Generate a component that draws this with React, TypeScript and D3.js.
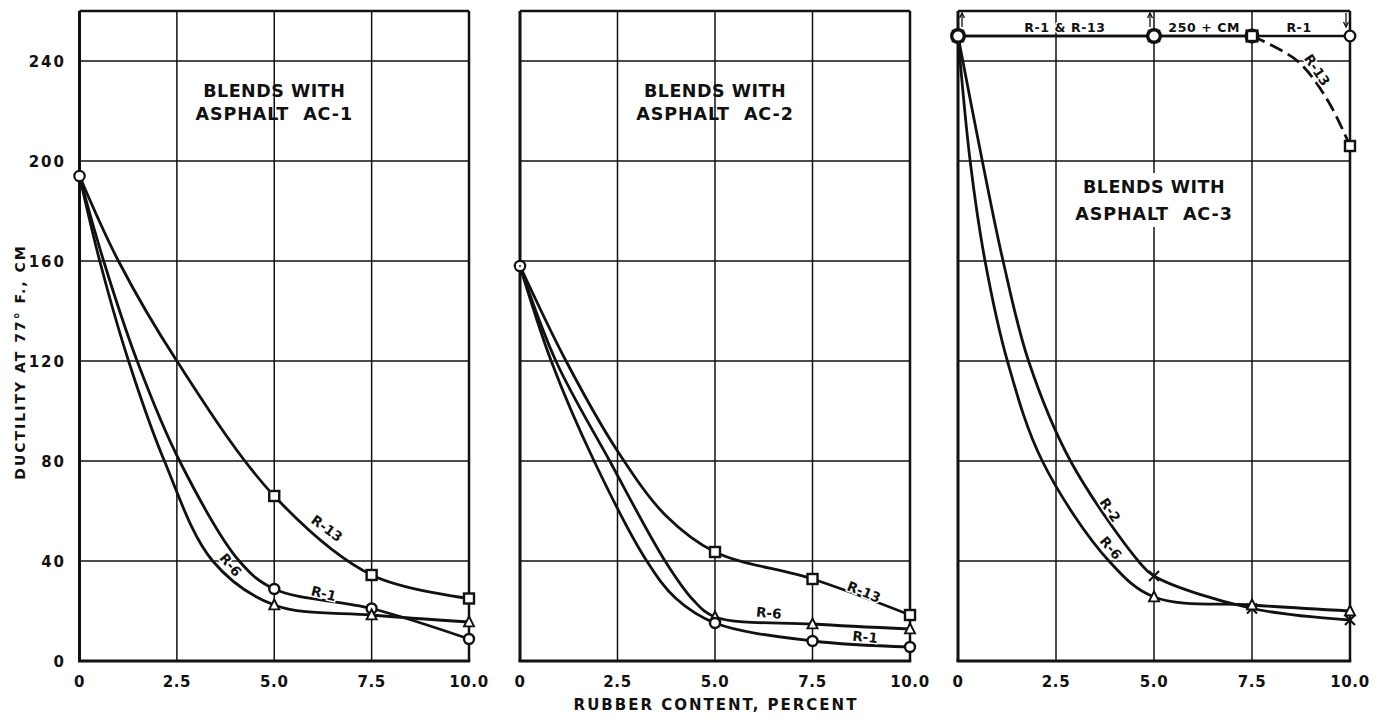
import React from 'react';
import * as d3 from 'd3';

// ---------- tick labels ----------
const xTicks = [0, 2.5, 5, 7.5, 10];
const xTickLabels = ['0', '2.5', '5.0', '7.5', '10.0'];
const yTicks = [0, 40, 80, 120, 160, 200, 240];
const yTickLabels = ['0', '40', '80', '120', '160', '200', '240'];
const gridY = [40, 80, 120, 160, 200, 240];
const markerX = [5, 7.5, 10];

// ---------- AC-1 curves (rubber %, ductility cm) ----------
const ac1R13: [number, number][] = [[0, 194], [1.0, 160], [2.5, 120], [5, 66], [7.5, 34.4], [10, 25]];
const ac1R1: [number, number][] = [[0, 194], [0.62, 160], [1.48, 120], [2.57, 80], [4.1, 40], [5, 28.8], [7.5, 21], [10, 8.8]];
const ac1R6: [number, number][] = [[0, 194], [0.52, 160], [1.26, 120], [2.18, 80], [3.42, 40], [5, 22.4], [7.5, 18.4], [10, 15.6]];

// ---------- AC-2 curves ----------
const ac2R13: [number, number][] = [[0, 158], [1.18, 120], [2.5, 84], [3.75, 58], [5, 43.6], [7.5, 32.8], [10, 18.4]];
const ac2R6: [number, number][] = [[0, 158], [0.92, 120], [2.3, 80], [3.72, 40], [4.44, 24.4], [5, 17.6], [7.5, 14.8], [10, 12.8]];
const ac2R1: [number, number][] = [[0, 158], [0.8, 120], [1.9, 80], [3.25, 40], [4.0, 25], [5, 15.2], [7.5, 8], [10, 5.6]];

// ---------- AC-3 curves ----------
const ac3R1: [number, number][] = [[0, 250], [5, 250], [7.5, 250], [10, 250]];
const ac3R13: [number, number][] = [[0, 250], [5, 250], [7.5, 250]];
const ac3R13Dashed: [number, number][] = [[7.5, 250], [8.66, 240], [9.44, 224], [10, 206]];
const ac3R2: [number, number][] = [[0, 250], [0.62, 200], [1.15, 160], [1.8, 120], [2.87, 80], [4.6, 40], [5, 34], [7.5, 21], [10, 16.4]];
const ac3R6: [number, number][] = [[0, 250], [0.31, 200], [0.69, 160], [1.26, 120], [2.15, 80], [3.85, 40], [5, 25.6], [7.5, 22.4], [10, 20]];

const FONT = "'DejaVu Sans', 'Liberation Sans', sans-serif";
const INK = '#111';

const yScale = d3.scaleLinear().domain([0, 240]).range([661, 61]);
const TOP = yScale(260);
const BOTTOM = yScale(0);

type Curve = { pts: [number, number][]; marker: string };
type Label = { text: string; x: number; y: number; rot: number };

const panels = [
  {
    range: [79.5, 469],
    title: ['BLENDS WITH', 'ASPHALT  AC-1'],
    titlePos: { x: 5, y1: 97, y2: 120 },
    start: 194,
    curves: [
      { pts: ac1R13, marker: 'square' },
      { pts: ac1R1, marker: 'circle' },
      { pts: ac1R6, marker: 'triangle' },
    ] as Curve[],
    labels: [
      { text: 'R-13', x: 6.35, y: 53, rot: 36 },
      { text: 'R-6', x: 3.88, y: 38.4, rot: 50 },
      { text: 'R-1', x: 6.27, y: 27, rot: 14 },
    ] as Label[],
    yAxis: true,
  },
  {
    range: [520, 910],
    title: ['BLENDS WITH', 'ASPHALT  AC-2'],
    titlePos: { x: 5, y1: 97, y2: 120 },
    start: 158,
    curves: [
      { pts: ac2R13, marker: 'square' },
      { pts: ac2R6, marker: 'triangle' },
      { pts: ac2R1, marker: 'circle' },
    ] as Curve[],
    labels: [
      { text: 'R-13', x: 8.82, y: 27.6, rot: 22 },
      { text: 'R-6', x: 6.38, y: 19.2, rot: 5 },
      { text: 'R-1', x: 8.85, y: 9.6, rot: 6 },
    ] as Label[],
    yAxis: false,
  },
  {
    range: [958, 1350],
    title: ['BLENDS WITH', 'ASPHALT  AC-3'],
    titlePos: { x: 5, y1: 193, y2: 220 },
    start: null,
    curves: [
      { pts: ac3R2, marker: 'cross' },
      { pts: ac3R6, marker: 'triangle' },
    ] as Curve[],
    labels: [
      { text: 'R-2', x: 3.88, y: 60.4, rot: 56 },
      { text: 'R-6', x: 3.9, y: 45.2, rot: 50 },
      { text: 'R-13', x: 9.16, y: 236.4, rot: 56 },
    ] as Label[],
    yAxis: false,
  },
];

function Marker({ kind, cx, cy, r = 5, sw = 2.4 }: { kind: string; cx: number; cy: number; r?: number; sw?: number }) {
  if (kind === 'circle')
    return <circle cx={cx} cy={cy} r={r} fill="#fff" stroke={INK} strokeWidth={sw} />;
  if (kind === 'square')
    return <rect x={cx - r} y={cy - r} width={2 * r} height={2 * r} fill="#fff" stroke={INK} strokeWidth={sw} />;
  if (kind === 'triangle') {
    const h = r * 1.1;
    return (
      <polygon
        points={`${cx},${cy - h} ${cx - r},${cy + h * 0.8} ${cx + r},${cy + h * 0.8}`}
        fill="#fff"
        stroke={INK}
        strokeWidth={sw * 0.8}
      />
    );
  }
  if (kind === 'cross')
    return (
      <g stroke={INK} strokeWidth={2.2}>
        <line x1={cx - r} y1={cy - r} x2={cx + r} y2={cy + r} />
        <line x1={cx - r} y1={cy + r} x2={cx + r} y2={cy - r} />
      </g>
    );
  return null;
}

export default function App() {
  return (
    <svg
      width={1381}
      height={719}
      viewBox="0 0 1381 719"
      style={{ display: 'block', background: '#fff', position: 'absolute', left: 0, top: 0 }}
    >
      <rect width={1381} height={719} fill="#fff" />
      {panels.map((p, pi) => {
        const xs = d3.scaleLinear().domain([0, 10]).range(p.range);
        const line = d3
          .line<[number, number]>()
          .x((d) => xs(d[0]))
          .y((d) => yScale(d[1]))
          .curve(d3.curveCatmullRom.alpha(0.5));
        return (
          <g key={pi}>
            {/* grid */}
            {gridY.map((g) => (
              <line key={'gy' + g} x1={xs(0)} x2={xs(10)} y1={yScale(g)} y2={yScale(g)} stroke={INK} strokeWidth={1.5} />
            ))}
            {xTicks.slice(1, 4).map((t) => (
              <line key={'gx' + t} x1={xs(t)} x2={xs(t)} y1={TOP} y2={BOTTOM} stroke={INK} strokeWidth={1.5} />
            ))}
            {/* title */}
            {pi === 2 && (
              <rect x={xs(5) - 75} y={p.titlePos.y1 - 20} width={150} height={p.titlePos.y2 - p.titlePos.y1 + 27} fill="#fff" />
            )}
            <g fontFamily={FONT} fontWeight="bold" fontSize={17.5} fill={INK} textAnchor="middle">
              <text x={xs(p.titlePos.x)} y={p.titlePos.y1} style={{ whiteSpace: 'pre' }} letterSpacing={0.5}>
                {p.title[0]}
              </text>
              <text x={xs(p.titlePos.x)} y={p.titlePos.y2} style={{ whiteSpace: 'pre' }} letterSpacing={0.9}>
                {p.title[1]}
              </text>
            </g>
            {/* frame */}
            <line x1={xs(0)} x2={xs(10)} y1={TOP} y2={TOP} stroke={INK} strokeWidth={2.5} />
            <line x1={xs(10)} x2={xs(10)} y1={TOP} y2={BOTTOM} stroke={INK} strokeWidth={2.5} />
            <line x1={xs(0)} x2={xs(0)} y1={TOP} y2={BOTTOM} stroke={INK} strokeWidth={3} />
            <line x1={xs(0) - 1.5} x2={xs(10) + 1.25} y1={BOTTOM} y2={BOTTOM} stroke={INK} strokeWidth={3} />

            {/* panel 3 special top band */}
            {pi === 2 && (
              <g>
                <path d={line(ac3R1) || ''} fill="none" stroke={INK} strokeWidth={2.6} />
                <path d={line(ac3R13) || ''} fill="none" stroke={INK} strokeWidth={2.6} />
                <path
                  d={line(ac3R13Dashed) || ''}
                  fill="none"
                  stroke={INK}
                  strokeWidth={2.8}
                  strokeDasharray="14,6"
                />
                {[0, 5, 10].map((t, i) => {
                  const up = i < 2;
                  const x = xs(t) + (i === 0 ? 4 : -4);
                  const y1 = TOP + 2;
                  const y2 = yScale(250) - 9;
                  return (
                    <g key={'ar' + t} stroke={INK} strokeWidth={1.3} fill="none">
                      <line x1={x} x2={x} y1={y1} y2={y2} />
                      {up ? (
                        <path d={`M${x - 2.5},${y1 + 5} L${x},${y1} L${x + 2.5},${y1 + 5}`} />
                      ) : (
                        <path d={`M${x - 2.5},${y2 - 5} L${x},${y2} L${x + 2.5},${y2 - 5}`} />
                      )}
                    </g>
                  );
                })}
                <g fontFamily={FONT} fontWeight="bold" fontSize={12.5} fill={INK} textAnchor="middle">
                  {[
                    { t: 'R-1 & R-13', x: 2.73 },
                    { t: '250 + CM', x: 6.28 },
                    { t: 'R-1', x: 8.7 },
                  ].map((b) => (
                    <text
                      key={b.t}
                      x={xs(b.x)}
                      y={yScale(250) - 4}
                      stroke="#fff"
                      strokeWidth={3}
                      paintOrder="stroke"
                      letterSpacing={0.6}
                    >
                      {b.t}
                    </text>
                  ))}
                </g>
              </g>
            )}

            {/* curves */}
            {p.curves.map((c, ci) => (
              <path key={'c' + ci} d={line(c.pts) || ''} fill="none" stroke={INK} strokeWidth={2.8} />
            ))}

            {/* series labels */}
            <g fontFamily={FONT} fontWeight="bold" fontSize={13.5} fill={INK} textAnchor="middle">
              {p.labels.map((l) => (
                <text
                  key={l.text + l.x}
                  transform={`translate(${xs(l.x)},${yScale(l.y)}) rotate(${l.rot})`}
                  dy="0.35em"
                  stroke="#fff"
                  strokeWidth={3}
                  paintOrder="stroke"
                >
                  {l.text}
                </text>
              ))}
            </g>

            {/* markers */}
            {p.curves.map((c, ci) =>
              c.pts
                .filter((d) => markerX.includes(d[0]))
                .map((d) => (
                  <Marker key={'m' + ci + d[0]} kind={c.marker} cx={xs(d[0])} cy={yScale(d[1])} />
                ))
            )}
            {p.start !== null && (
              <g>
                <Marker kind="circle" cx={xs(0)} cy={yScale(p.start)} r={5.2} sw={2.2} />
                {pi === 1 && <circle cx={xs(0)} cy={yScale(p.start)} r={1} fill={INK} />}
              </g>
            )}
            {pi === 2 && (
              <g>
                <Marker kind="square" cx={xs(0)} cy={yScale(250)} r={5} sw={2.6} />
                <Marker kind="circle" cx={xs(0)} cy={yScale(250)} r={6.3} sw={3.4} />
                <Marker kind="square" cx={xs(5)} cy={yScale(250)} r={5} sw={2.6} />
                <Marker kind="circle" cx={xs(5)} cy={yScale(250)} r={6.3} sw={3.4} />
                <Marker kind="circle" cx={xs(7.5)} cy={yScale(250)} r={6} sw={3} />
                <Marker kind="square" cx={xs(7.5)} cy={yScale(250)} r={5.2} sw={2.8} />
                <Marker kind="circle" cx={xs(10)} cy={yScale(250)} r={5.3} sw={2.3} />
                <Marker kind="square" cx={xs(10)} cy={yScale(ac3R13Dashed[3][1])} r={5} sw={2.4} />
              </g>
            )}

            {/* x tick labels */}
            <g fontFamily={FONT} fontWeight="bold" fontSize={15} fill={INK} textAnchor="middle">
              {xTicks.map((t, i) => (
                <text key={'xt' + t} x={xs(t)} y={687} letterSpacing={0.6}>
                  {xTickLabels[i]}
                </text>
              ))}
            </g>
            {/* y tick labels */}
            {p.yAxis && (
              <g fontFamily={FONT} fontWeight="bold" fontSize={15} fill={INK} textAnchor="end">
                {yTicks.map((t, i) => (
                  <text key={'yt' + t} x={66} y={yScale(t) + 5.5} letterSpacing={2}>
                    {yTickLabels[i]}
                  </text>
                ))}
              </g>
            )}
          </g>
        );
      })}
      {/* axis titles */}
      <text
        x={716}
        y={710}
        textAnchor="middle"
        fontFamily={FONT}
        fontWeight="bold"
        fontSize={15}
        letterSpacing={2}
        fill={INK}
      >
        RUBBER CONTENT, PERCENT
      </text>
      <text
        transform="translate(25,362) rotate(-90)"
        textAnchor="middle"
        fontFamily={FONT}
        fontWeight="bold"
        fontSize={14}
        letterSpacing={2}
        fill={INK}
      >
        DUCTILITY AT 77° F., CM
      </text>
    </svg>
  );
}
